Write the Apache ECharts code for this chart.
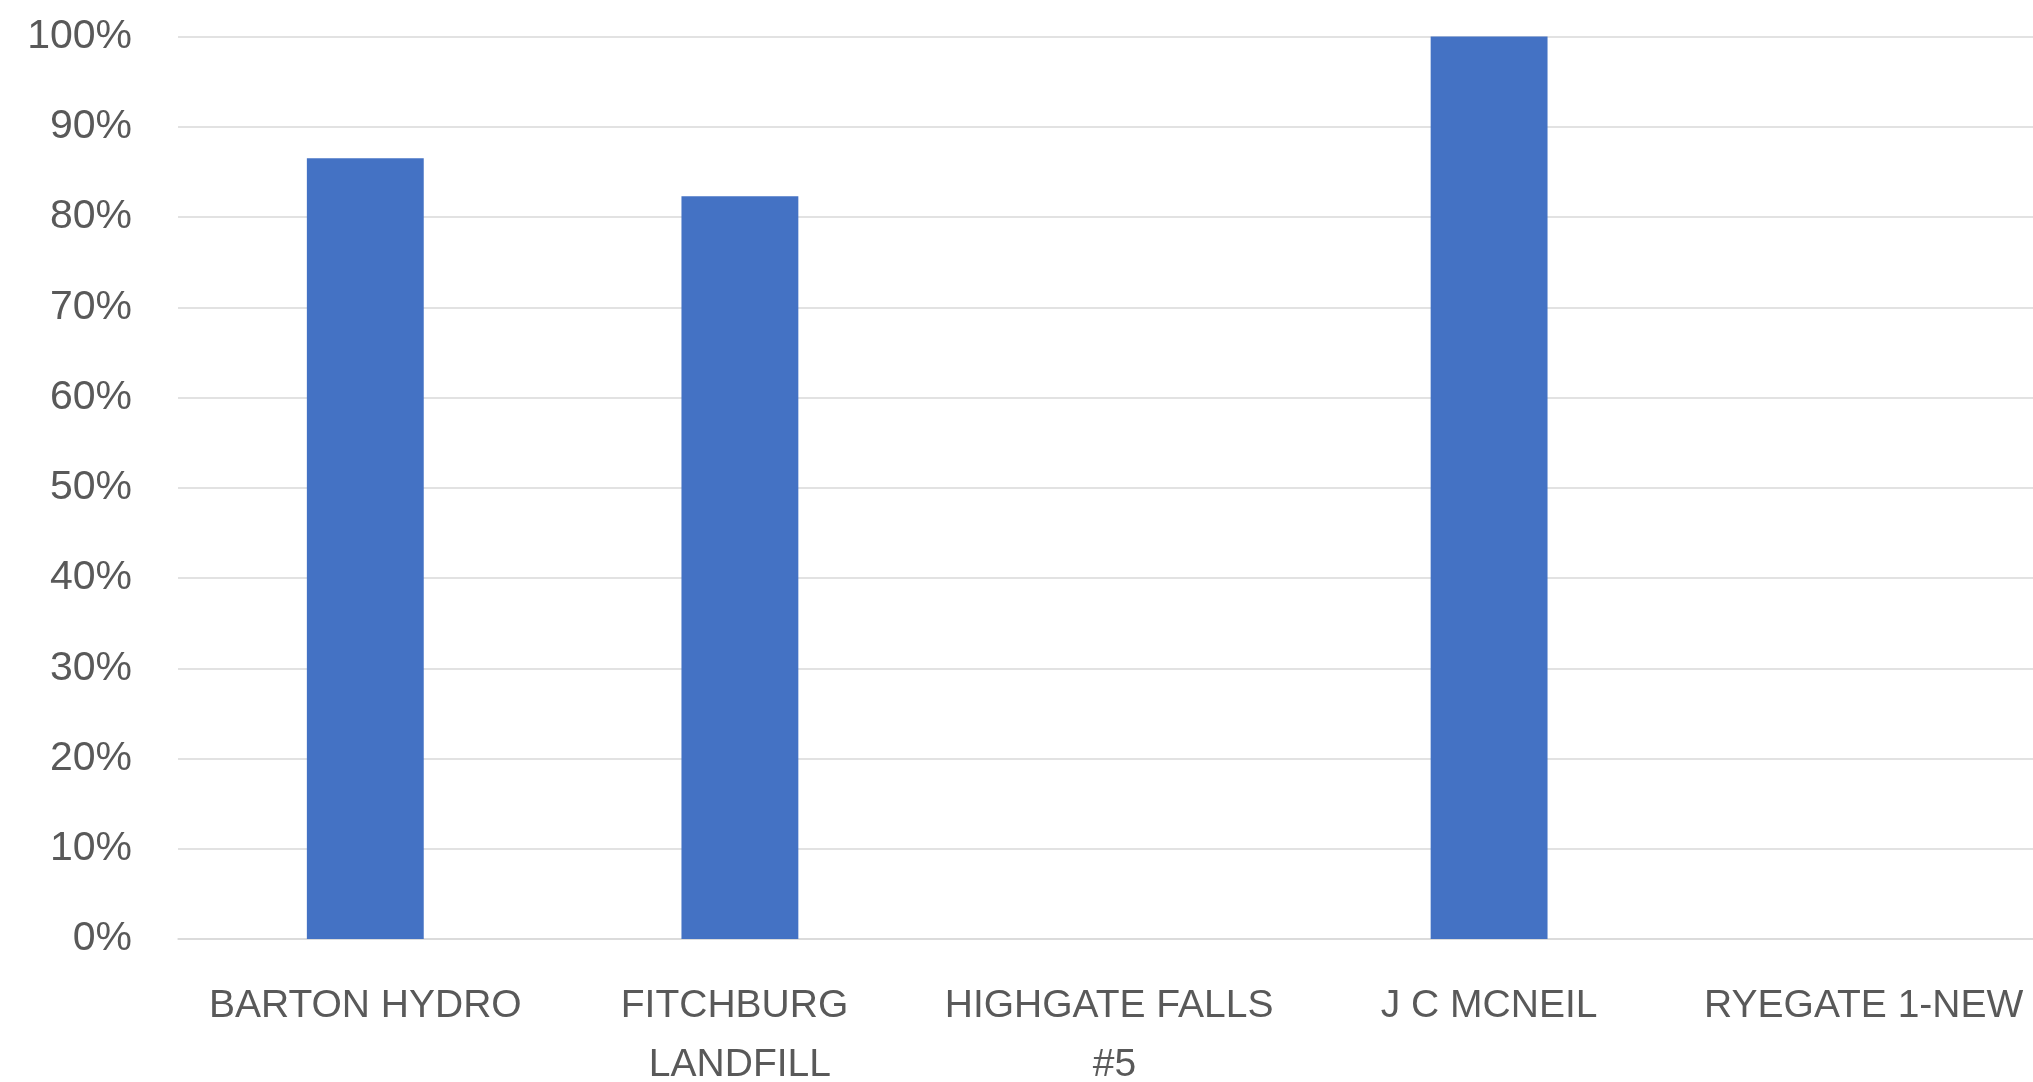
<!DOCTYPE html>
<html>
<head>
<meta charset="utf-8">
<script src="https://cdn.jsdelivr.net/npm/echarts@6/dist/echarts.min.js"></script>
<style>
html,body{margin:0;padding:0;background:#fff;overflow:hidden;}
#chart{width:2033px;height:1082px;}
</style>
</head>
<body>
<div id="chart"></div>
<script>
const categories = ["BARTON HYDRO", "FITCHBURG LANDFILL", "HIGHGATE FALLS #5", "J C MCNEIL", "RYEGATE 1-NEW"];
const values = [0.865, 0.823, 0, 1.0, 0];
const yTicks = [0, 0.1, 0.2, 0.3, 0.4, 0.5, 0.6, 0.7, 0.8, 0.9, 1.0];

const chart = echarts.init(document.getElementById('chart'), null, {renderer: 'canvas'});
chart.setOption({
  animation: false,
  backgroundColor: '#ffffff',
  grid: {left: 178, top: 36.5, width: 1873, height: 902.5, containLabel: false, outerBoundsMode: 'none'},
  xAxis: {
    type: 'category',
    data: categories,
    axisLine: {show: true, lineStyle: {color: '#d9d9d9', width: 1.5}},
    axisTick: {show: false},
    axisLabel: {
      color: '#595959',
      fontFamily: 'Liberation Sans',
      fontSize: 39,
      lineHeight: 59,
      margin: 38,
      interval: 0,
      width: 345,
      overflow: 'break'
    }
  },
  yAxis: {
    type: 'value',
    min: 0,
    max: 1,
    interval: 0.1,
    axisLine: {show: false},
    axisTick: {show: false},
    splitLine: {lineStyle: {color: '#d9d9d9', width: 1.5}},
    axisLabel: {
      color: '#595959',
      fontFamily: 'Liberation Sans',
      fontSize: 41,
      margin: 46,
      lineHeight: 48,
      padding: [4, 0, 0, 0],
      formatter: v => Math.round(v * 100) + '%'
    }
  },
  series: [{
    type: 'bar',
    data: values,
    barWidth: '31.2%',
    itemStyle: {color: '#4472C4'}
  }]
});
</script>
</body>
</html>
